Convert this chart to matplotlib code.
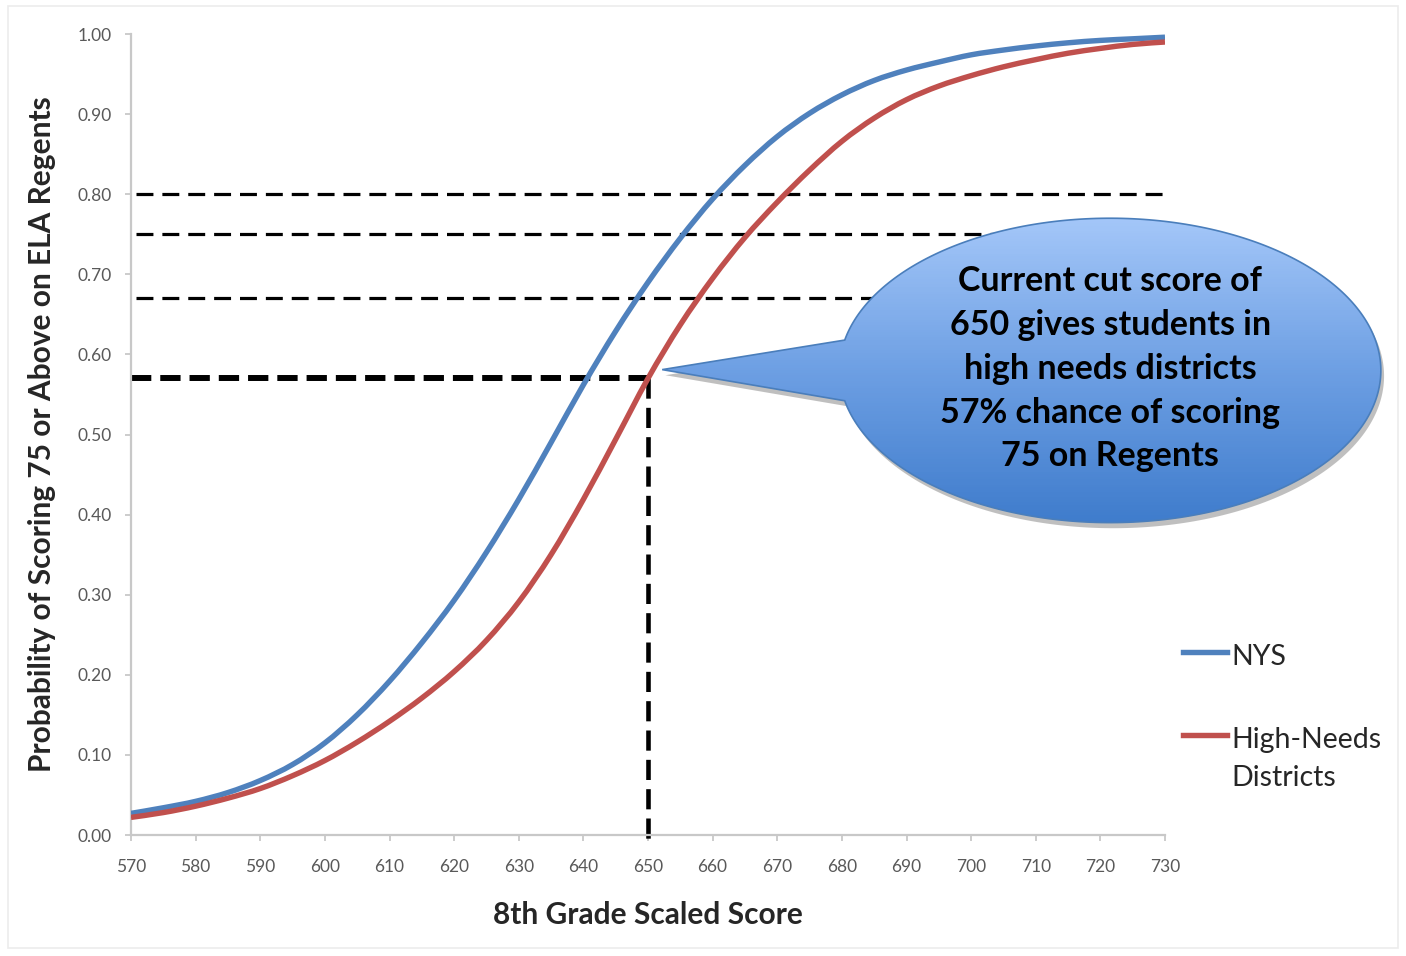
import numpy as np
import matplotlib.pyplot as plt
from matplotlib.patches import Polygon, Rectangle, PathPatch
from matplotlib.path import Path
from matplotlib.lines import Line2D
from matplotlib.colors import LinearSegmentedColormap
from matplotlib.ticker import FormatStrFormatter

plt.rcParams['font.family'] = ['Lato', 'DejaVu Sans']

# values
scores = [570, 575, 580, 585, 590, 595, 600, 605, 610, 615, 620,
          625, 630, 635, 640, 645, 650, 655, 660, 665, 670, 675,
          680, 685, 690, 695, 700, 705, 710, 715, 720, 725, 730]
nys = [0.027, 0.034, 0.042, 0.053, 0.068, 0.088, 0.115, 0.150, 0.192, 0.240, 0.293,
       0.353, 0.419, 0.490, 0.562, 0.629, 0.690, 0.745, 0.794, 0.836, 0.872, 0.901,
       0.924, 0.942, 0.955, 0.965, 0.974, 0.980, 0.985, 0.989, 0.992, 0.994, 0.996]
high_needs = [0.022, 0.028, 0.036, 0.046, 0.058, 0.074, 0.093, 0.116, 0.142, 0.171, 0.204,
              0.243, 0.291, 0.350, 0.419, 0.494, 0.570, 0.637, 0.695, 0.746, 0.790, 0.830,
              0.866, 0.895, 0.918, 0.935, 0.948, 0.959, 0.968, 0.976, 0.982, 0.987, 0.990]

series_names = ['NYS', 'High-Needs\nDistricts']
series_colors = ['#4F81BD', '#C0504D']

x_ticks = [570, 580, 590, 600, 610, 620, 630, 640, 650, 660,
           670, 680, 690, 700, 710, 720, 730]
y_ticks = [0.0, 0.1, 0.2, 0.3, 0.4, 0.5, 0.6, 0.7, 0.8, 0.9, 1.0]

target_levels = [0.80, 0.75, 0.67]
cut_score = 650
cut_prob = 0.57

callout_text = ("Current cut score of\n650 gives students in\nhigh needs districts\n"
                "57% chance of scoring\n75 on Regents")


def smooth_curve(x, y):
    # Catmull-Rom through the read points, drawn as cubic Bezier segments
    n = len(x)
    verts = [(x[0], y[0])]
    codes = [Path.MOVETO]
    for i in range(n - 1):
        p0 = max(i - 1, 0)
        p3 = min(i + 2, n - 1)
        c1 = (x[i] + (x[i + 1] - x[p0]) / 6, y[i] + (y[i + 1] - y[p0]) / 6)
        c2 = (x[i + 1] - (x[p3] - x[i]) / 6, y[i + 1] - (y[p3] - y[i]) / 6)
        verts += [c1, c2, (x[i + 1], y[i + 1])]
        codes += [Path.CURVE4] * 3
    return Path(verts, codes)


fig = plt.figure(figsize=(14.06, 9.56), dpi=100)
W, H = 1406, 956
ax = fig.add_axes([131 / W, 1 - 835 / H, 1034 / W, 801 / H])

# faint outer frame
fig.add_artist(Rectangle((8 / W, 8 / H), 1390 / W, 942 / H, transform=fig.transFigure,
                         fill=False, edgecolor='#ececec', linewidth=1.2))

# dashed reference lines
for lvl in target_levels:
    ax.plot([scores[0] + 0.8, scores[-1]], [lvl, lvl], color='black', lw=2.3,
            linestyle=(0, (5.3, 2.8)), zorder=2)
ax.plot([scores[0], cut_score], [cut_prob, cut_prob], color='black', lw=4.3,
        linestyle=(0, (3.4, 1.5)), zorder=2)
ax.plot([cut_score, cut_score], [cut_prob, -0.013], color='black', lw=3.3,
        linestyle=(0, (4.4, 2.0)), zorder=2, clip_on=False)

# curves
for vals, col in zip([nys, high_needs], series_colors):
    ax.add_patch(PathPatch(smooth_curve(scores, vals), fill=False, edgecolor=col,
                           lw=3.9, zorder=3, capstyle='butt'))

ax.set_xlim(570, 730)
ax.set_ylim(0, 1)
ax.set_xticks(x_ticks)
ax.set_yticks(y_ticks)
ax.yaxis.set_major_formatter(FormatStrFormatter('%.2f'))

for side in ['top', 'right']:
    ax.spines[side].set_visible(False)
for side in ['left', 'bottom']:
    ax.spines[side].set_color('#c8c8c8')
    ax.spines[side].set_linewidth(1.6)

ax.tick_params(axis='both', direction='out', length=4, width=1.3, color='#c8c8c8',
               labelsize=12.5, labelcolor='#595959')
ax.tick_params(axis='x', pad=13)
ax.tick_params(axis='y', pad=10)

ax.set_ylabel('Probability of Scoring 75 or Above on ELA Regents', fontsize=21.5,
              fontweight='bold', color='#262626')
ax.yaxis.set_label_coords(-0.073, 0.5)
ax.set_xlabel('8th Grade Scaled Score', fontsize=21.5, fontweight='bold', color='#262626')
ax.xaxis.set_label_coords(0.5, -0.083)

# legend, laid out like the original (handle level with the first text line)
handle_y = [652, 735]
for name, col, hy in zip(series_names, series_colors, handle_y):
    fig.add_artist(Line2D([1183 / W, 1227 / W], [1 - hy / H, 1 - hy / H],
                          transform=fig.transFigure, color=col, lw=3.9))
    for k, line in enumerate(name.split('\n')):
        fig.text(1231 / W, 1 - (hy + 13 + 38 * k) / H, line, fontsize=20.5,
                 color='#262626', va='baseline', ha='left')

# speech-bubble callout
cx, cy, a, b = 721.5, 0.58, 41.9, 0.19
th = np.radians(np.linspace(191.5, 528.5, 300))
bx = np.append(cx + a * np.cos(th), cut_score + 2.2)
by = np.append(cy + b * np.sin(th), cut_prob + 0.011)
pts = np.column_stack([bx, by])

shadow = Polygon(pts + [0.5, -0.007], closed=True, facecolor='#8c8c8c', edgecolor='none',
                 alpha=0.55, zorder=4, clip_on=False)
ax.add_patch(shadow)

bubble = Polygon(pts, closed=True, facecolor='none', edgecolor='#4a7ebb', lw=1.2,
                 zorder=6, clip_on=False)
ax.add_patch(bubble)

# vertical gradient fill, built from thin strips clipped to the bubble outline
cmap = LinearSegmentedColormap.from_list('bubble', ['#3f7ccc', '#6d9fe3', '#a3c6f8'])
n_strips = 120
strip_h = 2 * b / n_strips
for i in range(n_strips):
    y0 = cy - b + i * strip_h
    r = Rectangle((cut_score, y0), cx + a - cut_score, strip_h * 1.6,
                  facecolor=cmap(i / (n_strips - 1)), edgecolor='none', zorder=5)
    ax.add_patch(r)
    r.set_clip_path(bubble)
    r.set_clip_box(None)

ax.text(cx, cy + 0.002, callout_text, ha='center', va='center', fontsize=24.5,
        fontweight='bold', color='black', linespacing=1.45, zorder=7)

fig.savefig('out.png', dpi=100, facecolor='white')
